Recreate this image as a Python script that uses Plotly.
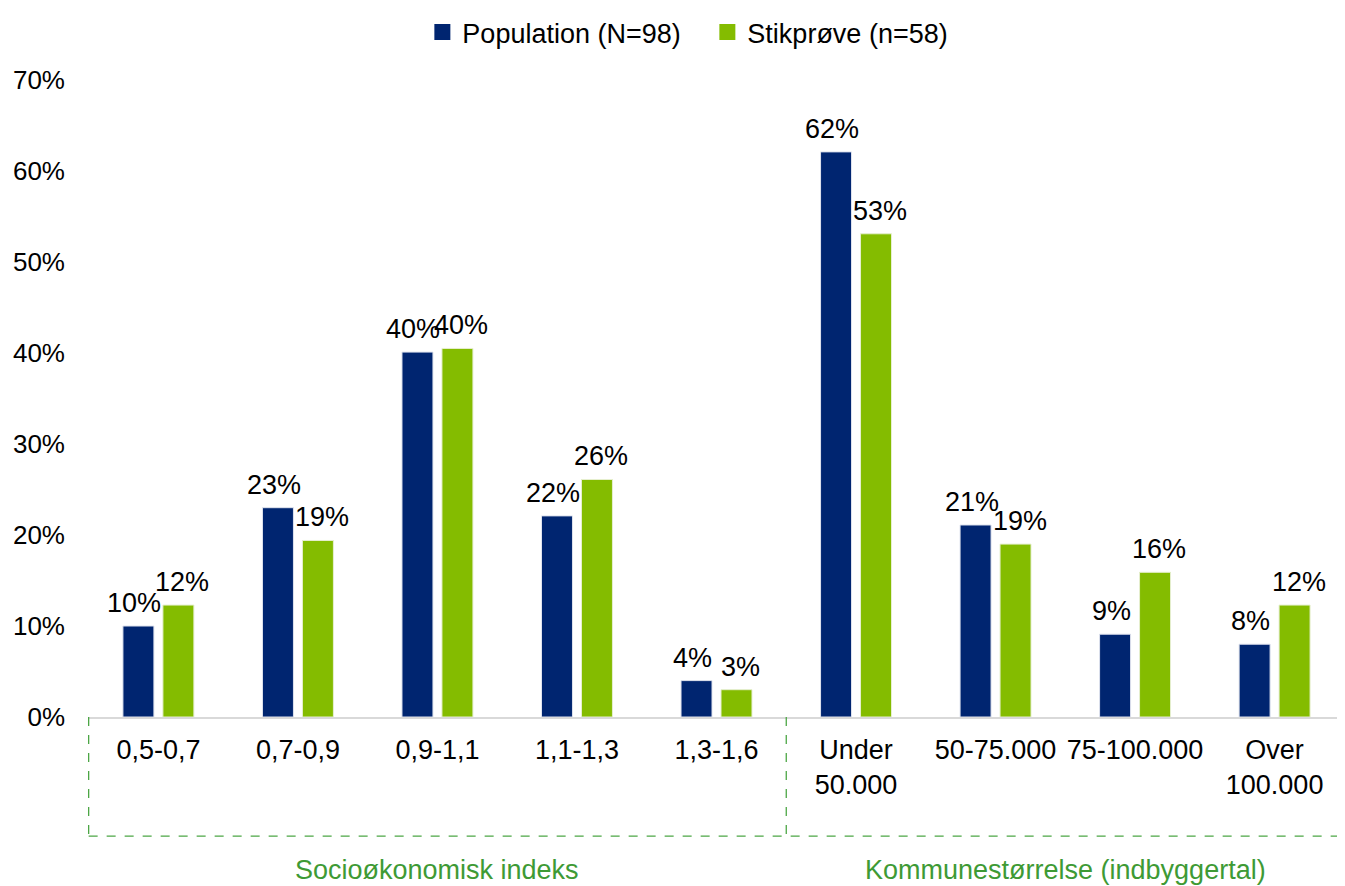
import plotly.graph_objects as go

categories = ["0,5-0,7", "0,7-0,9", "0,9-1,1", "1,1-1,3", "1,3-1,6",
              "Under<br>50.000", "50-75.000", "75-100.000", "Over<br>100.000"]
population = [10.0, 23.0, 40.1, 22.1, 4.0, 62.1, 21.1, 9.1, 8.0]
stikproeve = [12.3, 19.4, 40.5, 26.1, 3.0, 53.1, 19.0, 15.9, 12.3]
pop_labels = ["10%", "23%", "40%", "22%", "4%", "62%", "21%", "9%", "8%"]
stik_labels = ["12%", "19%", "40%", "26%", "3%", "53%", "19%", "16%", "12%"]
series_names = ["Population (N=98)", "Stikprøve (n=58)"]
groups = ["Socioøkonomisk indeks", "Kommunestørrelse (indbyggertal)"]
group_sizes = [5, 4]
y_ticks = [0, 10, 20, 30, 40, 50, 60, 70]

NAVY = "#002570"
GREEN = "#84BC00"
GROUP_GREEN = "#3E9A35"
FONT = "Liberation Sans, Arial, sans-serif"
FS = 26

pop_y = [v / 100 for v in population]
stik_y = [v / 100 for v in stikproeve]

fig = go.Figure()
fig.add_trace(go.Bar(name=series_names[0], x=categories, y=pop_y, showlegend=False,
                     marker=dict(color=NAVY, line=dict(color="#dfe3ee", width=1))))
fig.add_trace(go.Bar(name=series_names[1], x=categories, y=stik_y, showlegend=False,
                     marker=dict(color=GREEN, line=dict(color="#e6efd0", width=1))))
# legend entries with larger square markers
for name, col in zip(series_names, [NAVY, GREEN]):
    fig.add_trace(go.Scatter(name=name, x=[None], y=[None], mode="markers",
                             marker=dict(symbol="square", size=16, color=col)))

annotations = []
for cat, v, t in zip(categories, pop_y, pop_labels):
    annotations.append(dict(x=cat, y=v, text=t, showarrow=False, xref="x", yref="y",
                            yanchor="bottom", xanchor="center", xshift=-24, yshift=6,
                            font=dict(size=FS + 1, color="#000000", family=FONT)))
for cat, v, t in zip(categories, stik_y, stik_labels):
    annotations.append(dict(x=cat, y=v, text=t, showarrow=False, xref="x", yref="y",
                            yanchor="bottom", xanchor="center", xshift=24, yshift=6,
                            font=dict(size=FS + 1, color="#000000", family=FONT)))

# group boxes and labels
shapes = []
start = -0.5
boundaries = [start]
for gname, n in zip(groups, group_sizes):
    end = start + n
    mid = (start + end) / 2
    annotations.append(dict(x=mid, y=-0.24, xref="x", yref="paper", text=gname,
                            showarrow=False, yanchor="middle", xanchor="center",
                            font=dict(size=FS + 1, color=GROUP_GREEN, family=FONT)))
    start = end
    boundaries.append(end)

line_style = dict(color="#4CA645", width=1.3, dash="dash")
for b in boundaries[:-1]:
    shapes.append(dict(type="line", xref="x", yref="paper", x0=b, x1=b, y0=0, y1=-0.187,
                       line=line_style))
shapes.append(dict(type="line", xref="x", yref="paper", x0=boundaries[0], x1=boundaries[-1],
                   y0=-0.187, y1=-0.187, line=line_style))

# the page body has an 8px default margin; the figure is sized to fill the rest
fig.update_layout(
    width=1337, height=878,
    margin=dict(l=80, r=0, t=66, b=169),
    paper_bgcolor="white", plot_bgcolor="white",
    barmode="group", bargap=0.427, bargroupgap=0.225,
    font=dict(family=FONT, size=FS, color="#000000"),
    legend=dict(orientation="h", x=0.266, xanchor="left", y=1.0747, yanchor="middle",
                font=dict(size=FS + 1), itemwidth=30, traceorder="normal",
                entrywidth=240, entrywidthmode="pixels"),
    annotations=annotations, shapes=shapes,
    xaxis=dict(showgrid=False, showline=True, linecolor="#d9d9d9", linewidth=1.5,
               ticks="", tickfont=dict(size=FS + 1), fixedrange=True, automargin=False,
               ticklabelstandoff=8),
    yaxis=dict(range=[0, 0.7], tickvals=[t / 100 for t in y_ticks],
               ticktext=[f"{t}%" for t in y_ticks], showgrid=False, zeroline=False,
               showline=False, ticks="", ticklabelstandoff=22, automargin=False,
               tickfont=dict(size=FS)),
)

fig.write_html("out.html")
